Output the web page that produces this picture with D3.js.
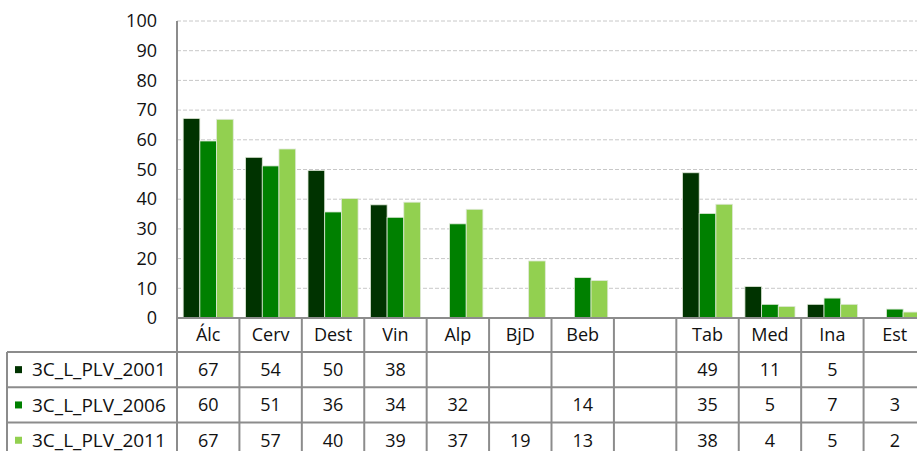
<!DOCTYPE html>
<html>
<head>
<meta charset="utf-8">
<script src="https://cdn.jsdelivr.net/npm/d3@7"></script>
<style>
  body { margin: 0; background: #fff; }
  svg { display: block; font-family: "Open Sans", sans-serif; }
</style>
</head>
<body>
<svg id="chart"></svg>
<script>
// data
var categories = ["Álc", "Cerv", "Dest", "Vin", "Alp", "BjD", "Beb", "", "Tab", "Med", "Ina", "Est"];
var seriesNames = ["3C_L_PLV_2001", "3C_L_PLV_2006", "3C_L_PLV_2011"];
var v2001 = [67.2, 54.1, 49.7, 38.1, null, null, null, null, 48.9, 10.6, 4.6, null];
var v2006 = [59.6, 51.2, 35.7, 33.9, 31.7, null, 13.6, null, 35.2, 4.6, 6.7, 3.0];
var v2011 = [66.9, 56.9, 40.2, 39.0, 36.6, 19.2, 12.6, null, 38.3, 3.9, 4.6, 2.0];
var yTicks = [0, 10, 20, 30, 40, 50, 60, 70, 80, 90, 100];
var colors = ["#003300", "#008000", "#92d050"];

var seriesValues = [v2001, v2006, v2011];

var width = 917, height = 451;
var plotLeft = 177, plotRight = 926, plotTop = 21, plotBottom = 318;
var rowH = 35.3, headerH = 34, tableLeft = 7;
var gridColor = "#8c8c8c";
var textColor = "#111";

var svg = d3.select("#chart")
  .attr("width", width)
  .attr("height", height);

var x0 = d3.scaleBand()
  .domain(d3.range(categories.length))
  .range([plotLeft, plotRight])
  .paddingInner(0).paddingOuter(0);

var x1 = d3.scaleBand()
  .domain(d3.range(seriesNames.length))
  .range([0, x0.bandwidth()])
  .paddingInner(0).paddingOuter(0.37);

var y = d3.scaleLinear()
  .domain([0, 100])
  .range([plotBottom, plotTop]);

// gridlines
svg.append("g")
  .selectAll("line")
  .data(yTicks.filter(function(d){ return d > 0; }))
  .enter().append("line")
  .attr("x1", plotLeft).attr("x2", plotRight)
  .attr("y1", function(d){ return y(d); })
  .attr("y2", function(d){ return y(d); })
  .attr("stroke", "#c8c8c8")
  .attr("stroke-width", 1)
  .attr("stroke-dasharray", "4,2");

// y axis labels
var yAxis = d3.axisLeft(y).tickValues(yTicks).tickSize(0).tickPadding(20);
var yg = svg.append("g")
  .attr("transform", "translate(" + plotLeft + ",0)")
  .call(yAxis);
yg.select(".domain").remove();
yg.selectAll("text")
  .attr("font-family", "Open Sans")
  .attr("font-size", 18)
  .attr("fill", textColor);

// bars
var groups = svg.append("g")
  .selectAll("g")
  .data(seriesValues)
  .enter().append("g")
  .attr("fill", function(d, i){ return colors[i]; });

groups.each(function(vals, si) {
  d3.select(this).selectAll("rect")
    .data(vals.map(function(v, ci){ return {ci: ci, v: v}; }).filter(function(d){ return d.v != null; }))
    .enter().append("rect")
    .attr("x", function(d){ return x0(d.ci) + x1(si); })
    .attr("width", x1.bandwidth())
    .attr("y", function(d){ return y(d.v); })
    .attr("height", function(d){ return y(0) - y(d.v); })
    .attr("stroke", "#dfe8d8")
    .attr("stroke-width", 0.8);
});

// data table
var table = svg.append("g");
var rowTops = seriesNames.map(function(d, i){ return plotBottom + headerH + i * rowH; });

// horizontal lines
table.append("line")
  .attr("x1", plotLeft).attr("x2", plotRight)
  .attr("y1", plotBottom).attr("y2", plotBottom)
  .attr("stroke", gridColor).attr("stroke-width", 2);
table.selectAll(".hline")
  .data(rowTops.concat([plotBottom + headerH + seriesNames.length * rowH]))
  .enter().append("line")
  .attr("class", "hline")
  .attr("x1", tableLeft).attr("x2", plotRight)
  .attr("y1", function(d){ return d; }).attr("y2", function(d){ return d; })
  .attr("stroke", gridColor).attr("stroke-width", 2);

// vertical lines
table.selectAll(".vline")
  .data(d3.range(categories.length + 1))
  .enter().append("line")
  .attr("class", "vline")
  .attr("x1", function(d){ return plotLeft + d * x0.step(); })
  .attr("x2", function(d){ return plotLeft + d * x0.step(); })
  .attr("y1", plotBottom).attr("y2", height + 20)
  .attr("stroke", gridColor).attr("stroke-width", 2);
table.append("line")
  .attr("x1", tableLeft).attr("x2", tableLeft)
  .attr("y1", rowTops[0]).attr("y2", height + 20)
  .attr("stroke", gridColor).attr("stroke-width", 2);

// y axis line
svg.append("line")
  .attr("x1", plotLeft).attr("x2", plotLeft)
  .attr("y1", plotTop).attr("y2", plotBottom)
  .attr("stroke", gridColor).attr("stroke-width", 2);

// category labels
table.selectAll(".cat")
  .data(categories)
  .enter().append("text")
  .attr("x", function(d, i){ return x0(i) + x0.bandwidth() / 2; })
  .attr("y", plotBottom + headerH / 2)
  .attr("dy", "0.35em")
  .attr("text-anchor", "middle")
  .attr("font-size", 18)
  .attr("fill", textColor)
  .text(function(d){ return d; });

// legend column + values
var fmt = d3.format(".0f");
seriesNames.forEach(function(name, si) {
  var cy = rowTops[si] + rowH / 2;
  table.append("rect")
    .attr("x", 15).attr("y", cy - 3.5)
    .attr("width", 7).attr("height", 7)
    .attr("fill", colors[si]);
  table.append("text")
    .attr("x", 32).attr("y", cy)
    .attr("dy", "0.35em")
    .attr("font-size", 19)
    .attr("fill", textColor)
    .text(name);
  table.selectAll(".val" + si)
    .data(seriesValues[si])
    .enter().append("text")
    .attr("x", function(d, i){ return x0(i) + x0.bandwidth() / 2; })
    .attr("y", cy)
    .attr("dy", "0.35em")
    .attr("text-anchor", "middle")
    .attr("font-size", 18)
    .attr("fill", textColor)
    .text(function(d){ return d == null ? "" : fmt(d); });
});
</script>
</body>
</html>
